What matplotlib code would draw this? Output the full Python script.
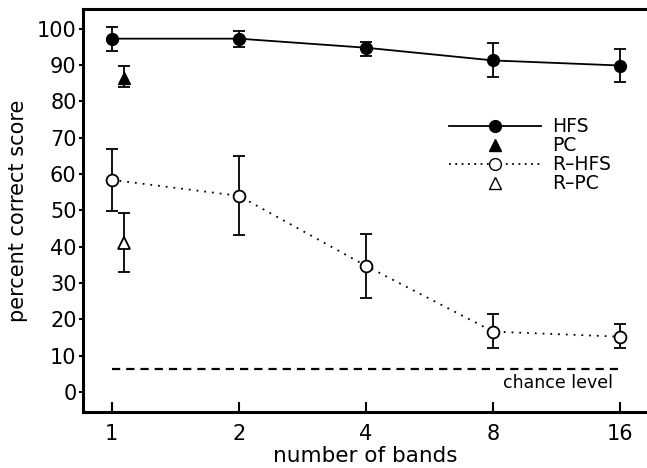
import numpy as np
import matplotlib.pyplot as plt
from matplotlib.lines import Line2D

# data
bands = [1, 2, 4, 8, 16]
hfs = [97.3, 97.3, 94.8, 91.3, 89.9]
hfs_lo = [94.0, 95.0, 92.6, 86.8, 85.4]
hfs_hi = [100.5, 99.5, 96.4, 96.1, 94.5]

rhfs = [58.4, 54.0, 34.7, 16.6, 15.2]
rhfs_lo = [49.9, 43.2, 25.9, 12.1, 12.1]
rhfs_hi = [66.8, 65.0, 43.6, 21.5, 18.8]

pc_x = [1.07]
pc = [86.6]
pc_lo = [84.0]
pc_hi = [89.9]

rpc_x = [1.07]
rpc = [41.0]
rpc_lo = [33.1]
rpc_hi = [49.3]

chance = 6.25

plt.rcParams['font.family'] = ['DejaVu Sans']

fig = plt.figure(figsize=(6.47, 4.68), dpi=100)
ax = fig.add_axes([0.128, 0.12, 0.872, 0.861])

def err(v, lo, hi):
    return [np.array(v) - np.array(lo), np.array(hi) - np.array(v)]

ebkw = dict(ecolor='black', elinewidth=1.3, capsize=4, capthick=1.3, zorder=2)
ms = 8.5

ax.errorbar(bands, hfs, yerr=err(hfs, hfs_lo, hfs_hi), fmt='-o', color='black',
            lw=1.3, ms=ms, mfc='black', mec='black', **ebkw)
ax.errorbar(pc_x, pc, yerr=err(pc, pc_lo, pc_hi), fmt='^', color='black',
            ms=ms, mfc='black', mec='black', **ebkw)
ax.errorbar(bands, rhfs, yerr=err(rhfs, rhfs_lo, rhfs_hi), fmt='o', color='black',
            ms=ms, mfc='white', mec='black', mew=1.3, **ebkw)
ax.plot(bands, rhfs, color='black', lw=1.3, ls=(0, (1, 3.3)), zorder=1)
ax.errorbar(rpc_x, rpc, yerr=err(rpc, rpc_lo, rpc_hi), fmt='^', color='black',
            ms=ms, mfc='white', mec='black', mew=1.3, **ebkw)

ax.plot([bands[0], bands[-1]], [chance, chance], color='black', lw=1.6,
        ls=(0, (3.7, 2.7)))
ax.text(15.4, 2.4, 'chance level', fontsize=12.5, ha='right', va='center')

ax.set_xscale('log', base=2)
ax.set_xlim(2 ** -0.228, 2 ** 4.21)
ax.set_ylim(-5.5, 105.5)
ax.set_xticks(bands)
ax.set_xticklabels([str(b) for b in bands])
ax.minorticks_off()
ax.set_yticks(range(0, 101, 10))

ax.tick_params(axis='x', direction='in', length=7, width=1.5, labelsize=15, pad=9)
ax.tick_params(axis='y', direction='out', length=3, width=1.5, labelsize=15, pad=1.5)
ax.set_xlabel('number of bands', fontsize=15.5, labelpad=1)
ax.set_ylabel('percent correct score', fontsize=15, labelpad=6)

for s in ['left', 'bottom', 'top']:
    ax.spines[s].set_linewidth(2.2)
ax.spines['right'].set_visible(False)

handles = [
    Line2D([], [], color='black', lw=1.3, marker='o', ms=ms, mfc='black'),
    Line2D([], [], color='none', marker='^', ms=ms, mfc='black', mec='black'),
    Line2D([], [], color='black', lw=1.3, ls=(0, (1, 2.5)), marker='o', ms=ms,
           mfc='white', mec='black'),
    Line2D([], [], color='none', marker='^', ms=ms, mfc='white', mec='black'),
]
ax.legend(handles, ['HFS', 'PC', 'R\u2013HFS', 'R\u2013PC'], frameon=False,
          fontsize=13.5, handlelength=4.9, handletextpad=0.6, labelspacing=0.0,
          loc='upper left', bbox_to_anchor=(0.62, 0.773))

fig.savefig('out.png', dpi=100)
